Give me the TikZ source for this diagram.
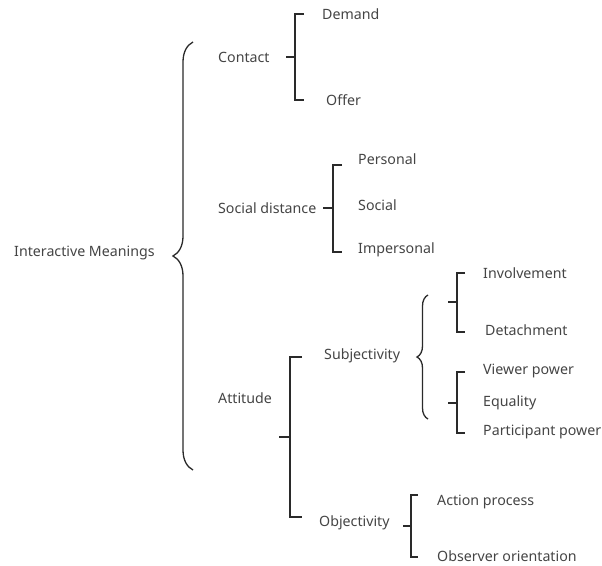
\documentclass[tikz,border=0pt]{standalone}
\usepackage{fontspec}
\setmainfont{Noto Sans}
\usetikzlibrary{decorations.pathreplacing}
\definecolor{txt}{HTML}{444444}
\definecolor{ln}{HTML}{2A2A2A}
\tikzset{
  lbl/.style={anchor=west, inner sep=0pt, text=txt, font=\fontsize{14.2}{16}\selectfont},
  brk/.style={draw=ln, line width=1.8pt},
  crl/.style={draw=ln, line width=1.3pt, decorate, decoration={brace, amplitude=#1}},
}
\begin{document}
\begin{tikzpicture}[x=1pt, y=-1pt]
\useasboundingbox (0,0) rectangle (602,565);
% labels
\node[lbl] (im) at (14,253) {Interactive Meanings};
\node[lbl] (contact) at (218,57) {Contact};
\node[lbl] (demand) at (322,14) {Demand};
\node[lbl] (offer) at (326,100) {Offer};
\node[lbl] (social) at (218,208) {Social distance};
\node[lbl] (pers) at (358,159) {Personal};
\node[lbl] (soc) at (358,205) {Social};
\node[lbl] (imp) at (358,250) {Impersonal};
\node[lbl] (att) at (218,398) {Attitude};
\node[lbl] (subj) at (324,356) {Subjectivity};
\node[lbl] (inv) at (483,273) {Involvement};
\node[lbl] (det) at (485,330) {Detachment};
\node[lbl] (vp) at (483,371) {Viewer power};
\node[lbl] (eq) at (483,403) {Equality};
\node[lbl] (pp) at (483,432) {Participant power};
\node[lbl] (obj) at (319,523) {Objectivity};
\node[lbl] (ap) at (437,502) {Action process};
\node[lbl] (oo) at (437,556) {Observer orientation};
% big brace
\coordinate (bb1) at (193,470);
\coordinate (bb2) at (193,42);
\draw[crl=20] (bb1) -- (bb2);
% contact bracket
\coordinate (c0) at (286,57); \coordinate (c1) at (295,57);
\coordinate (ct) at (304,14); \coordinate (cb) at (304,100);
\draw[brk] (c0) -- (c1);
\draw[brk] (ct) -| (c1) |- (cb);
% social distance bracket
\coordinate (s0) at (323,208); \coordinate (s1) at (333,208);
\coordinate (st) at (342,165); \coordinate (sb) at (342,252);
\draw[brk] (s0) -- (s1);
\draw[brk] (st) -| (s1) |- (sb);
% attitude bracket
\coordinate (a0) at (279,437); \coordinate (a1) at (290,437);
\coordinate (at) at (302,357); \coordinate (ab) at (302,517);
\draw[brk] (a0) -- (a1);
\draw[brk] (at) -| (a1) |- (ab);
% subjectivity brace
\coordinate (sb1) at (428,419);
\coordinate (sb2) at (428,295);
\draw[crl=11] (sb1) -- (sb2);
% involvement bracket
\coordinate (i0) at (448,302); \coordinate (i1) at (457,302);
\coordinate (it) at (465,273); \coordinate (ib) at (465,332);
\draw[brk] (i0) -- (i1);
\draw[brk] (it) -| (i1) |- (ib);
% viewer power bracket
\coordinate (v0) at (448,403); \coordinate (v1) at (457,403);
\coordinate (vt) at (465,372); \coordinate (vb) at (465,433);
\draw[brk] (v0) -- (v1);
\draw[brk] (vt) -| (v1) |- (vb);
% objectivity bracket
\coordinate (o0) at (403,526); \coordinate (o1) at (411,526);
\coordinate (ot) at (418,495); \coordinate (ob) at (418,557);
\draw[brk] (o0) -- (o1);
\draw[brk] (ot) -| (o1) |- (ob);
\end{tikzpicture}
\end{document}
